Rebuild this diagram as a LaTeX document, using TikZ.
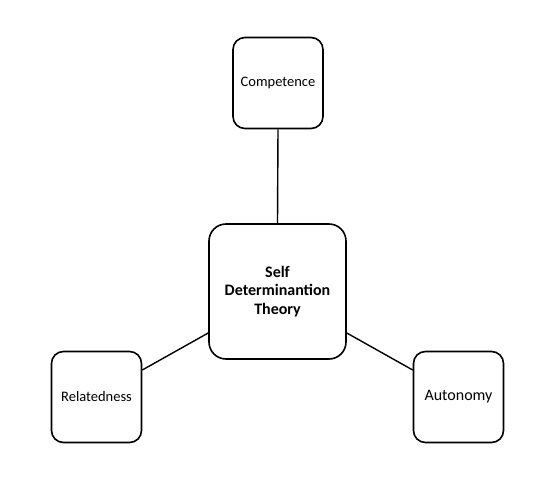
\documentclass[tikz,border=0pt]{standalone}
\usepackage{fontspec}
\setmainfont{Carlito}
\begin{document}
\begin{tikzpicture}[x=1pt,y=-1pt,
  smallbox/.style={draw=black,line width=1.6pt,rounded corners=12pt,fill=white,
    minimum width=90pt,minimum height=91pt,inner sep=0pt,align=center,font=\fontsize{14.5}{17}\selectfont},
  bigbox/.style={draw=black,line width=1.6pt,rounded corners=17pt,fill=white,
    minimum width=137pt,minimum height=135pt,inner sep=0pt,align=center,font=\bfseries\fontsize{16}{18.5}\selectfont},
  link/.style={line width=1.4pt,draw=black}]
\useasboundingbox (0,0) rectangle (536,488);
\node[bigbox] (sdt) at (277.5,291.5) {Self\\Determinantion\\Theory};
\node[smallbox] (comp) at (278,83) {Competence};
\node[smallbox] (rel) at (96.5,397) {Relatedness};
\node[smallbox,font=\fontsize{16}{19}\selectfont] (aut) at (458.5,397) {Autonomy};
\draw[link] (comp.south) -- (sdt.north);
\draw[link] (sdt.west |- 0,333) -- (rel.east |- 0,370);
\draw[link] (sdt.east |- 0,333) -- (aut.west |- 0,370);
\end{tikzpicture}
\end{document}
